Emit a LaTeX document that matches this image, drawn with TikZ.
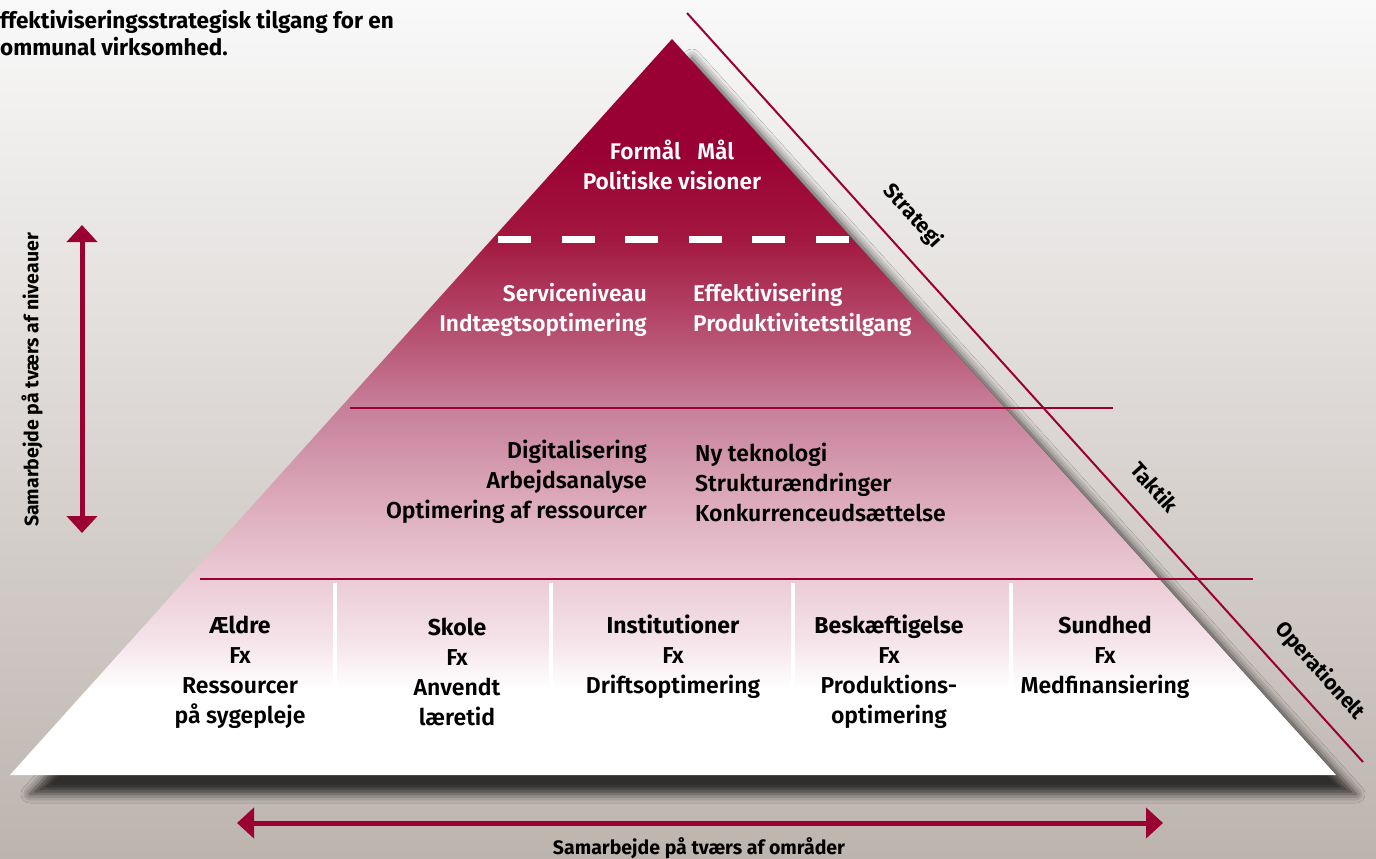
\documentclass[tikz,border=0pt]{standalone}
\usepackage{fontspec}
\setmainfont{Fira Sans}[UprightFont=* SemiBold, BoldFont=* Bold]
\usetikzlibrary{arrows.meta,shadows.blur}

\definecolor{kred}{RGB}{155,0,50}
\definecolor{pyrA}{RGB}{153,0,51}
\definecolor{pyrB}{RGB}{163,24,63}
\definecolor{pyrC}{RGB}{180,72,106}
\definecolor{pyrD}{RGB}{199,128,154}
\definecolor{pyrE}{RGB}{220,170,187}
\definecolor{pyrF}{RGB}{235,203,214}
\definecolor{pyrG}{RGB}{245,227,234}
\definecolor{bgtop}{RGB}{249,249,249}
\definecolor{bgmid}{RGB}{228,224,222}
\definecolor{bgbot}{RGB}{189,180,174}

\pgfdeclareverticalshading{pyrshade}{100bp}{color(0bp)=(white); color(30.8bp)=(white);
  color(34.2bp)=(pyrG); color(38.3bp)=(pyrF); color(43.7bp)=(pyrE); color(49.9bp)=(pyrD);
  color(55.9bp)=(pyrC); color(61.4bp)=(pyrB); color(67.5bp)=(pyrA); color(100bp)=(pyrA)}

\begin{document}
\begin{tikzpicture}[
    x = 1pt, y = -1pt,
    whitetxt/.style = {text=white,
                       inner sep=0pt,
                       font=\fontsize{22.7}{30}\selectfont},
    darktxt/.style  = {text=black,
                       inner sep=0pt,
                       font=\fontsize{23}{30}\selectfont},
    sidetxt/.style  = {text=black,
                       inner sep=0pt,
                       font=\fontsize{21}{24}\selectfont\bfseries},
    redline/.style  = {draw=kred,
                       line width=2pt},
    divline/.style  = {draw=white,
                       line width=4pt},
    arr/.style      = {draw=kred,
                       line width=5pt,
                       {Triangle[width=30pt,length=17pt]}-{Triangle[width=30pt,length=17pt]}}
]
% background
\useasboundingbox (0,0) rectangle (1376,859);
\shade[top color=bgtop, middle color=bgmid, bottom color=bgbot] (0,0) rectangle (1376,859);

% pyramid
\coordinate (apex) at (672,39);
\coordinate (bl)   at (10,775);
\coordinate (br)   at (1336,775);
\shade[shading=pyrshade,
       blur shadow={shadow xshift=20pt, shadow yshift=-19pt,
                    shadow blur radius=9pt, shadow opacity=75}]
    (apex) -- (br) -- (bl) -- cycle;

% level lines
\draw[white, line width=7pt, dash pattern=on 33pt off 30.5pt] (498,239) -- (850,239);
\coordinate (l1a) at (350,408);
\coordinate (l1b) at (1113,408);
\coordinate (l2a) at (200,579);
\coordinate (l2b) at (1253,579);
\coordinate (diaga) at (687,13);
\coordinate (diagb) at (1363,762);
\draw[redline] (l1a) -- (l1b);
\draw[redline] (l2a) -- (l2b);
\draw[redline] (diaga) -- (diagb);

% column dividers
\foreach \xd in {335,551,793,1011}
    \draw[divline] (\xd,583) -- (\xd,770);

% texts in the pyramid
\node (top) [whitetxt, align=center] at (672,165) {Formål\ \ \ Mål\\Politiske visioner};
\node (srv) [whitetxt, align=right, anchor=east] at (647,310) {Serviceniveau\\Indtægtsoptimering};
\node (eff) [whitetxt, align=left, anchor=west] at (693,310) {Effektivisering\\Produktivitetstilgang};
\node (dig) [darktxt, align=right, anchor=east] at (647,482) {Digitalisering\\Arbejdsanalyse\\Optimering af ressourcer};
\node (tek) [darktxt, align=left, anchor=west] at (695,482) {Ny teknologi\\Strukturændringer\\Konkurrenceudsættelse};

\node (aeld) [darktxt, align=center] at (240,672) {\textbf{Ældre}\\Fx\\Ressourcer\\på sygepleje};
\node (skol) [darktxt, align=center] at (457,672) {\textbf{Skole}\\Fx\\Anvendt\\læretid};
\node (inst) [darktxt, align=center] at (673,657) {\textbf{Institutioner}\\Fx\\Driftsoptimering};
\node (besk) [darktxt, align=center] at (889,672) {\textbf{Beskæftigelse}\\Fx\\Produktions-\\optimering};
\node (sund) [darktxt, align=center] at (1105,657) {\textbf{Sundhed}\\Fx\\Medfinansiering};

% labels along the side
\node (strat) [sidetxt, rotate=-47.9] at (913,216) {Strategi};
\node (takt)  [sidetxt, rotate=-47.9] at (1155,487) {Taktik};
\node (oper)  [sidetxt, rotate=-47.9] at (1320,671) {Operationelt};

% caption at the top left
\node (capt) [sidetxt, align=left, anchor=north west, font=\fontsize{22.5}{27}\selectfont\bfseries]
    at (0,10) {ffektiviseringsstrategisk tilgang for en\\ommunal virksomhed.};

% arrows
\coordinate (vtop) at (82,225);
\coordinate (vbot) at (82,533);
\coordinate (hl)   at (237,823);
\coordinate (hr)   at (1163,823);
\draw[arr] (vtop) -- (vbot);
\draw[arr] (hl) -- (hr);
\node (niv) [sidetxt, rotate=90, font=\fontsize{19.5}{22}\selectfont\bfseries] at (32,380) {Samarbejde på tværs af niveauer};
\node (omr) [sidetxt, font=\fontsize{19.5}{22}\selectfont\bfseries] at (699,848) {Samarbejde på tværs af områder};

\end{tikzpicture}
\end{document}
